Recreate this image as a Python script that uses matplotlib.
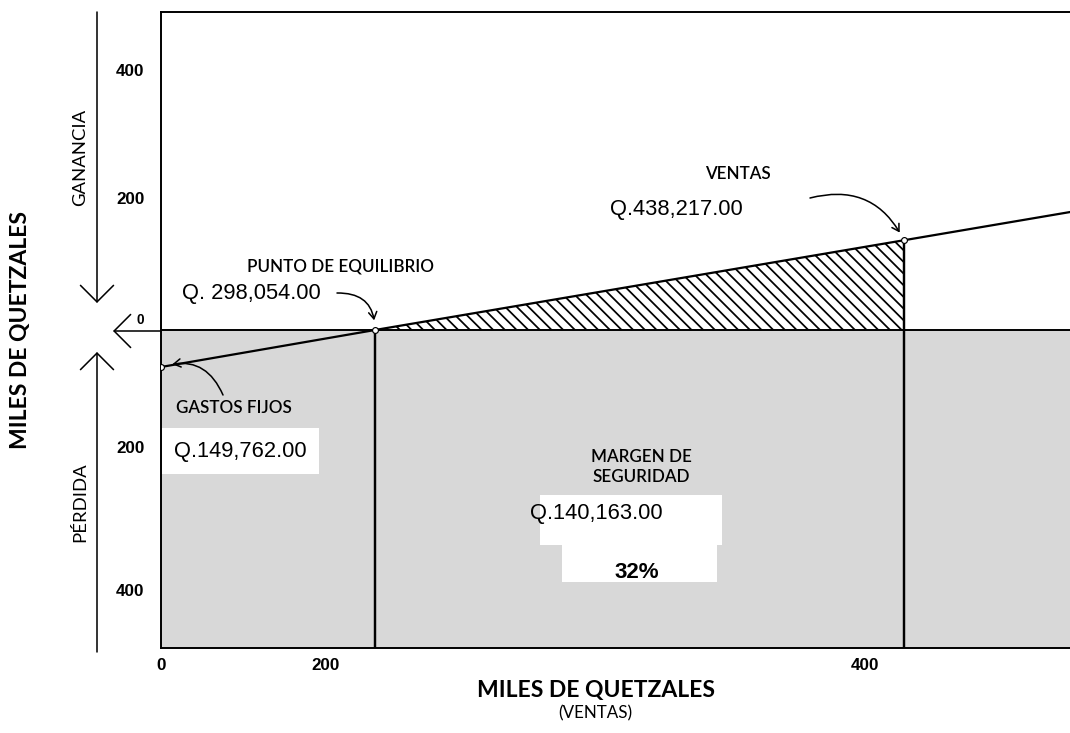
import numpy as np
import matplotlib.pyplot as plt
from matplotlib.patches import Rectangle

# Punto de equilibrio, valores en miles de quetzales
gastos_fijos = 149.762
punto_equilibrio = 298.054
ventas = 438.217
margen_seguridad = 140.163
margen_pct = 32

# recta de utilidad: ventas (x) contra ganancia / pérdida (y)
recta_x = [0, punto_equilibrio, ventas, 600]
recta_y = [-gastos_fijos, 0, 136, 180]

x_ticks = [0, 200, 400]
x_tick_labels = ["0", "200", "400"]
y_ticks = [-400, -200, 200, 400]
y_tick_labels = ["400", "200", "200", "400"]

# la gráfica es esquemática: escala por tramos valor -> pixeles
esc_x_val = [0, 200, punto_equilibrio, 400, ventas, 600]
esc_x_px = [0, 165, 214, 704, 743, 914]
esc_y_val = [-500, -400, -200, -gastos_fijos, 0, 200, 400, 500]
esc_y_px = [-318, -260, -117, -37, 0, 132, 260, 318]

W, H, DPI = 1070, 733, 70
ARIAL = ["Liberation Sans", "DejaVu Sans"]
CALIBRI = ["Lato", "DejaVu Sans"]

plt.rcParams["hatch.linewidth"] = 1.8


def tramos(src, dst):
    src = np.asarray(src, float)
    dst = np.asarray(dst, float)
    m0 = (dst[1] - dst[0]) / (src[1] - src[0])
    m1 = (dst[-1] - dst[-2]) / (src[-1] - src[-2])

    def f(v):
        v = np.asarray(v, float)
        out = np.interp(v, src, dst)
        out = np.where(v < src[0], dst[0] + (v - src[0]) * m0, out)
        out = np.where(v > src[-1], dst[-1] + (v - src[-1]) * m1, out)
        return out
    return f


def fig_px(x, y):
    return x / W, 1 - y / H


fig = plt.figure(figsize=(W / DPI, H / DPI), dpi=DPI)
ax = fig.add_axes([161 / W, (H - 648) / H, 914 / W, 636 / H])
ax.set_xscale("function", functions=(tramos(esc_x_val, esc_x_px), tramos(esc_x_px, esc_x_val)))
ax.set_yscale("function", functions=(tramos(esc_y_val, esc_y_px), tramos(esc_y_px, esc_y_val)))
ax.set_xlim(0, 600)
ax.set_ylim(-500, 500)

# zona de pérdida sombreada
ax.axhspan(-500, 0, facecolor="#d8d8d8", edgecolor="none", zorder=0.5)

# margen de seguridad rayado
mx = [punto_equilibrio, ventas]
my = [0, recta_y[2]]
ax.fill_between(mx, 0, my, facecolor="none", edgecolor="black", hatch="\\\\", linewidth=0, zorder=1)

ax.axhline(0, color="black", lw=2, zorder=2)
ax.vlines([punto_equilibrio, ventas], -500, [0, recta_y[2]], color="black", lw=2.5, zorder=2)
ax.plot(recta_x, recta_y, color="black", lw=2.3, zorder=3)
ax.plot(recta_x[:3], recta_y[:3], "o", ms=6, mfc="white", mec="black", mew=1.2, zorder=4)

for s in ax.spines.values():
    s.set_linewidth(2)
    s.set_zorder(3)

ax.set_xticks(x_ticks, x_tick_labels)
ax.set_yticks(y_ticks, y_tick_labels)
ax.tick_params(length=0, labelsize=17.5)
ax.tick_params(axis="x", pad=10)
ax.tick_params(axis="y", pad=17)
for lab in ax.get_xticklabels() + ax.get_yticklabels():
    lab.set_family(ARIAL)
    lab.set_fontweight("bold")
ax.set_xlabel("MILES DE QUETZALES", fontsize=23.5, fontweight="bold", family=CALIBRI)
ax.xaxis.set_label_coords((596 - 161) / 914, (648 - 691) / 636)
ax.xaxis.label.set_va("center")
ax.set_ylabel("MILES DE QUETZALES", fontsize=23.5, fontweight="bold", family=CALIBRI)
ax.yaxis.set_label_coords((21 - 161) / 914, (648 - 330) / 636)
ax.yaxis.label.set_va("center")
fig.text(*fig_px(595, 713), "(VENTAS)", fontsize=17.5, family=CALIBRI, ha="center", va="center")

# flechas de ganancia y pérdida
flecha = dict(arrowstyle="->,head_length=0.85,head_width=0.85", lw=1.6, color="black",
              shrinkA=0, shrinkB=0, mutation_scale=20)
for ini, fin in [((97, 12), (97, 303)), ((97, 652), (97, 352)), ((161, 331), (113, 331))]:
    ax.annotate("", xy=(fin[0], H - fin[1]), xytext=(ini[0], H - ini[1]),
                xycoords="figure pixels", arrowprops=flecha, annotation_clip=False)
fig.text(*fig_px(140, 320), "0", fontsize=14, fontweight="bold", family=ARIAL, ha="center", va="center")
fig.text(*fig_px(80, 157), "GANANCIA", fontsize=19, family=CALIBRI, rotation=90, ha="center", va="center")
fig.text(*fig_px(80, 502), "PÉRDIDA", fontsize=19, family=CALIBRI, rotation=90, ha="center", va="center")

# anotaciones
flecha_c = dict(arrowstyle="->,head_length=0.5,head_width=0.3", lw=1.6, color="black",
                shrinkA=0, mutation_scale=14)
ax.annotate("", xy=(punto_equilibrio, 0), xytext=(337, H - 293), textcoords="figure pixels",
            arrowprops=dict(flecha_c, connectionstyle="arc3,rad=-0.5", shrinkB=10))
ax.annotate("", xy=(ventas, recta_y[2]), xytext=(810, H - 198), textcoords="figure pixels",
            arrowprops=dict(flecha_c, connectionstyle="arc3,rad=-0.4", shrinkB=9))
ax.annotate("", xy=(0, -gastos_fijos), xytext=(223, H - 395), textcoords="figure pixels",
            arrowprops=dict(flecha_c, connectionstyle="arc3,rad=0.45", shrinkB=12))

etiqueta = dict(fontsize=17.5, family=CALIBRI, fontweight="semibold", va="center")
monto = dict(fontsize=22.5, family=ARIAL, va="center")
fig.text(*fig_px(247, 266), "PUNTO DE EQUILIBRIO", **etiqueta)
fig.text(*fig_px(182, 293), f"Q. {punto_equilibrio * 1000:,.2f}", **monto)
fig.text(*fig_px(705, 174), "VENTAS", **etiqueta)
fig.text(*fig_px(610, 210), f"Q.{ventas * 1000:,.2f}", **monto)
fig.text(*fig_px(176, 408), "GASTOS FIJOS", **etiqueta)
fig.text(*fig_px(174, 451), f"Q.{gastos_fijos * 1000:,.2f}", **monto,
         bbox=dict(boxstyle="square,pad=0.55", fc="white", ec="none"))

for x0, y0, x1, y1 in [(540, 495, 722, 545), (562, 545, 717, 582)]:
    fig.patches.append(Rectangle(fig_px(x0, y1), (x1 - x0) / W, (y1 - y0) / H,
                                 transform=fig.transFigure, fc="white", ec="none", zorder=1))
fig.text(*fig_px(641, 467), "MARGEN DE\nSEGURIDAD", ha="center", linespacing=1.3, **etiqueta)
fig.text(*fig_px(530, 514), f"Q.{margen_seguridad * 1000:,.2f}", zorder=2, **monto)
fig.text(*fig_px(637, 572), f"{margen_pct}%", fontsize=23, fontweight="bold", family=ARIAL,
         ha="center", va="center", zorder=2)

fig.savefig("out.png", dpi=DPI)
